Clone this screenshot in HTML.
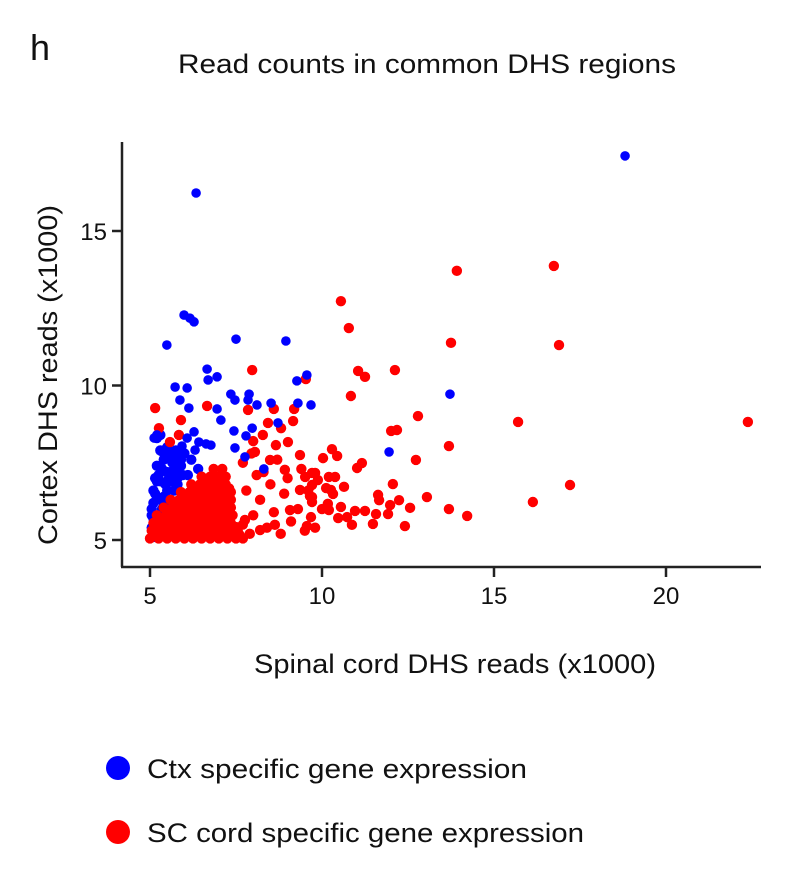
<!DOCTYPE html>
<html><head><meta charset="utf-8"><style>
body{margin:0;background:#fff;}
svg text{font-family:"Liberation Sans","DejaVu Sans",sans-serif;fill:#111;}
</style></head><body>
<svg id="chart" width="810" height="888" viewBox="0 0 810 888">
<text x="30" y="60" font-size="36">h</text>
<text x="178" y="73" font-size="27" textLength="498" lengthAdjust="spacingAndGlyphs">Read counts in common DHS regions</text>
<text transform="translate(57,545) rotate(-90)" font-size="27" textLength="340" lengthAdjust="spacingAndGlyphs">Cortex DHS reads (x1000)</text>
<text x="254" y="673" font-size="27" textLength="402" lengthAdjust="spacingAndGlyphs">Spinal cord DHS reads (x1000)</text>
<g id="axes"></g>
<g id="points"></g>
<circle cx="118" cy="768" r="12" fill="#0000ff"/>
<text x="147" y="778" font-size="27" textLength="380" lengthAdjust="spacingAndGlyphs">Ctx specific gene expression</text>
<circle cx="118" cy="832" r="12" fill="#ff0000"/>
<text x="147" y="842" font-size="27" textLength="437" lengthAdjust="spacingAndGlyphs">SC cord specific gene expression</text>
</svg>
<script>
const xTicks=[5,10,15,20];
const yTicks=[5,10,15];
const blueDenseX=[5.05,5.05,5.1,5.1,5.15,5.2,5.3,5.35,5.4,5.45,5.5,5.6,5.3,5.7,5.8,5.9,6.0,6.1,5.6,5.2,5.3,5.5,5.75,6.2,6.4,5.1,5.25,5.6,6.1,6.6,7.0,5.2,5.4,5.05,5.15,5.25,5.35,5.45,5.55,5.65,5.75,5.85,5.95,5.1,5.2,5.3,5.4,5.5,5.6,5.7,5.8,5.9];
const blueDenseY=[5.4,5.8,6.2,6.6,7.0,7.4,5.6,6.0,6.4,6.8,7.2,7.6,7.9,6.6,7.0,7.4,7.8,7.1,6.2,8.3,8.4,8.0,7.9,7.6,7.3,5.1,5.2,5.3,5.2,5.15,5.3,6.9,7.6,6.0,6.5,7.1,7.3,7.8,7.0,7.5,7.2,7.7,7.1,5.7,6.3,6.9,6.2,6.6,6.9,7.3,6.8,7.6];
const redX=[5.0,5.25,5.5,5.75,6.0,6.25,6.5,6.75,7.0,7.25,7.5,7.7,
5.05,5.3,5.55,5.8,6.05,6.3,6.55,6.8,7.05,7.3,7.55,
5.1,5.35,5.6,5.85,6.1,6.35,6.6,6.85,7.1,7.35,
5.2,5.45,5.7,5.95,6.2,6.45,6.7,6.95,7.2,7.4,
5.4,5.65,5.9,6.15,6.4,6.65,6.9,7.15,7.35,
5.6,5.85,6.1,6.35,6.6,6.85,7.1,7.35,
5.9,6.15,6.4,6.65,6.9,7.15,7.35,
6.2,6.45,6.7,6.95,7.2,
6.5,6.75,7.0,7.2,
6.85,7.1,
5.12,5.37,5.62,5.87,6.12,6.37,6.62,6.87,7.12,7.37,7.6,
5.25,5.5,5.75,6.0,6.25,6.5,6.75,7.0,7.25,7.5,
5.35,5.6,5.85,6.1,6.35,6.6,6.85,7.1,7.3,
5.55,5.8,6.05,6.3,6.55,6.8,7.05,7.3,
5.75,6.0,6.25,6.5,6.75,7.0,7.25,
6.05,6.3,6.55,6.8,7.05,7.3,
6.35,6.6,6.85,7.1,7.3,
6.65,6.9,7.15,
7.7,7.9,8.0,8.2,7.8,8.4,8.6,8.8,8.9,9.1,9.3,9.5,8.5,8.1,7.7,7.95,8.3,9.0,9.6,9.4,8.7,10.0,9.8,8.0,
10.55,10.78,13.92,16.74,16.89,13.75,11.05,11.25,12.12,10.84,12.79,12.01,12.18,13.69,15.70,22.38,12.73,17.21,16.13,14.22,13.69,13.05,12.41,12.56,12.24,12.06,11.98,11.92,11.63,11.66,11.57,11.48,11.25,10.96,10.87,10.73,10.47,10.55,10.20,10.17,10.64,10.32,10.26,10.12,9.71,9.71,9.65,9.71,9.88,9.80,9.71,9.51,10.20,10.38,10.03,10.29,10.44,11.02,11.16,9.68,9.56,9.53,
5.15,6.66,7.97,7.85,5.90,5.26,5.58,5.84,8.43,8.60,9.19,9.16,8.81,8.28,8.66,9.01,9.36,8.49,8.05,8.92,9.36,9.07,8.63,8.20,7.76];
const redY=[5.05,5.05,5.05,5.05,5.05,5.05,5.05,5.05,5.05,5.05,5.05,5.05,
5.3,5.3,5.3,5.3,5.3,5.3,5.3,5.3,5.3,5.3,5.3,
5.55,5.55,5.55,5.55,5.55,5.55,5.55,5.55,5.55,5.55,
5.8,5.8,5.8,5.8,5.8,5.8,5.8,5.8,5.8,5.8,
6.05,6.05,6.05,6.05,6.05,6.05,6.05,6.05,6.05,
6.3,6.3,6.3,6.3,6.3,6.3,6.3,6.3,
6.55,6.55,6.55,6.55,6.55,6.55,6.55,
6.8,6.8,6.8,6.8,6.8,
7.05,7.05,7.05,7.05,
7.3,7.3,
5.17,5.17,5.17,5.17,5.17,5.17,5.17,5.17,5.17,5.17,5.17,
5.42,5.42,5.42,5.42,5.42,5.42,5.42,5.42,5.42,5.42,
5.67,5.67,5.67,5.67,5.67,5.67,5.67,5.67,5.67,
5.92,5.92,5.92,5.92,5.92,5.92,5.92,5.92,
6.17,6.17,6.17,6.17,6.17,6.17,6.17,
6.42,6.42,6.42,6.42,6.42,6.42,
6.67,6.67,6.67,6.67,6.67,
6.92,6.92,6.92,
5.5,5.2,5.8,6.3,6.6,5.4,5.9,5.2,6.5,5.6,6.0,5.3,6.8,7.1,7.5,7.8,7.2,7.0,6.6,7.3,7.6,6.0,5.4,8.2,
12.73,11.86,13.71,13.87,11.31,11.38,10.47,10.28,10.50,9.66,9.01,8.53,8.56,8.04,8.82,8.82,7.59,6.78,6.23,5.78,6.0,6.39,5.45,6.04,6.29,6.81,6.13,5.84,6.46,6.29,5.84,5.52,5.94,5.94,5.49,5.74,5.71,6.07,5.97,6.17,6.72,6.49,6.62,6.68,6.23,6.39,6.42,6.78,6.94,7.17,7.17,7.04,7.04,7.04,7.65,7.94,7.72,7.33,7.49,5.74,5.45,10.21,
9.27,9.34,10.50,9.21,8.88,8.62,8.17,8.40,8.79,9.24,9.24,8.85,8.62,8.40,8.07,8.17,7.75,7.59,7.85,7.27,6.62,5.97,5.49,5.32,5.65];
const blueX=[18.81,6.34,5.99,6.16,6.28,5.49,7.50,8.95,6.66,6.95,6.69,5.73,6.08,5.87,6.13,6.95,7.06,7.35,7.47,7.88,7.85,8.11,8.52,9.27,9.56,9.30,9.68,8.72,7.97,7.79,7.44,8.31,13.72,11.95,5.20,5.12,6.28,6.08,5.93,6.42,6.63,6.77,6.31,7.47,7.76,5.38,5.64];
const blueY=[17.43,16.23,12.28,12.18,12.06,11.31,11.50,11.44,10.53,10.28,10.18,9.95,9.92,9.53,9.27,9.24,8.88,9.72,9.53,9.72,9.53,9.37,9.43,10.15,10.34,9.43,9.37,8.79,8.62,8.37,8.53,7.30,9.72,7.85,8.40,8.30,8.50,8.30,8.04,8.17,8.11,8.07,7.91,7.98,7.69,7.82,7.78];

const NS='http://www.w3.org/2000/svg';
const sx=v=>150+(v-5)*34.4;
const sy=v=>540-(v-5)*30.9;
const axes=document.getElementById('axes');
const pts=document.getElementById('points');
function mk(tag,attrs,parent){const e=document.createElementNS(NS,tag);for(const k in attrs)e.setAttribute(k,attrs[k]);parent.appendChild(e);return e;}
let l=mk('line',{x1:122,y1:142,x2:122,y2:567,stroke:'#222','stroke-width':2.5},axes);


l=mk('line',{x1:121,y1:567,x2:761,y2:567,stroke:'#222','stroke-width':2.5},axes);


xTicks.forEach(t=>{
  const tk=mk('line',{x1:sx(t),y1:567,x2:sx(t),y2:577,stroke:'#222','stroke-width':2.5},axes);
  
  
  const tx=mk('text',{x:sx(t),y:604,'font-size':24,'text-anchor':'middle'},axes);
  tx.textContent=t;
  
  
});
yTicks.forEach(t=>{
  const tk=mk('line',{x1:112,y1:sy(t),x2:122,y2:sy(t),stroke:'#222','stroke-width':2.5},axes);
  
  
  const tx=mk('text',{x:107,y:sy(t)+9,'font-size':24,'text-anchor':'end'},axes);
  tx.textContent=t;
  
  
});
function draw(xs,ys,color,name,r){
  xs.forEach((x,i)=>{
    const c=mk('circle',{cx:sx(x),cy:sy(ys[i]),r:r,fill:color},pts);
    
    
  });
}
draw(blueDenseX,blueDenseY,'#0000ff','ctx-point',5.2);
draw(redX,redY,'#ff0000','sc-point',5.2);
draw(blueX,blueY,'#0000ff','ctx-point',4.8);
</script>
</body></html>
